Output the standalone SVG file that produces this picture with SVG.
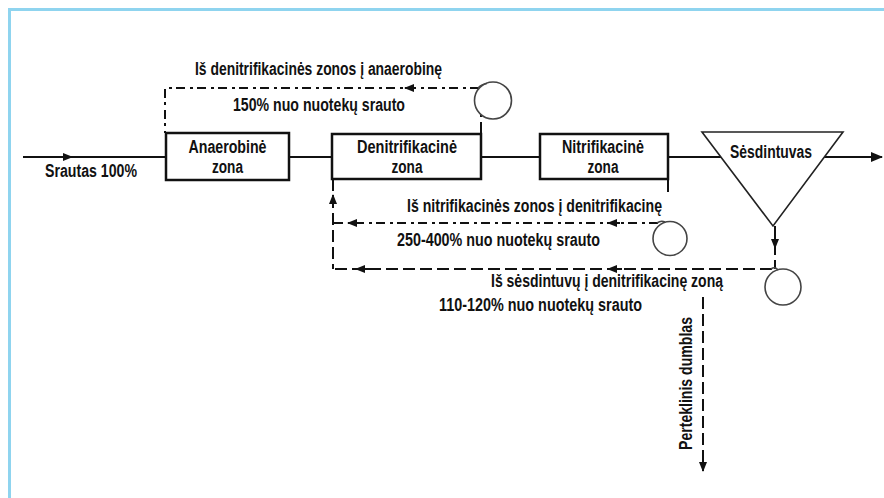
<svg xmlns="http://www.w3.org/2000/svg" width="884" height="498" viewBox="0 0 884 498">
<defs>
<marker id="ah" markerUnits="userSpaceOnUse" markerWidth="10" markerHeight="8" refX="9" refY="4" orient="auto"><path d="M0,0 L10,4 L0,8 z" fill="#111"/></marker>
<marker id="ahL" markerUnits="userSpaceOnUse" markerWidth="12" markerHeight="10" refX="11" refY="5" orient="auto"><path d="M0,0 L12,5 L0,10 z" fill="#111"/></marker>
<style>
.t{font-family:"Liberation Sans Narrow","Liberation Sans",Arial,sans-serif;font-weight:bold;font-size:17.5px;fill:#111}
.c{text-anchor:middle}
.box{fill:#fff;stroke:#111;stroke-width:2.5}
.ln{fill:none;stroke:#111;stroke-width:2}
.dd{fill:none;stroke:#111;stroke-width:2;stroke-dasharray:9 4 3 5}
.ds{fill:none;stroke:#111;stroke-width:2;stroke-dasharray:12 5}
.pump{fill:none;stroke:#444;stroke-width:1.6}
</style>
</defs>
<rect width="884" height="498" fill="#fff"/>
<path d="M9.5,498 V9.5 H884" fill="none" stroke="#8fd4ef" stroke-width="3"/>

<g id="connectors">
<path class="ln" d="M23,157 H166"/>
<path class="ln" d="M60,157 H72" marker-end="url(#ah)"/>
<path class="ln" d="M289,157 H332"/>
<path class="ln" d="M481,157 H540"/>
<path class="ln" d="M668,157 H721"/>
<path class="ln" d="M824,157 H882" marker-end="url(#ahL)"/>
<path class="ds" d="M481,134 V115"/>
<path class="dd" d="M479,88 H165 V133"/>
<path class="ln" d="M416,88 H405" marker-end="url(#ah)"/>
<path class="pump" d="M478,88 Q482,84 487,83.5"/>
<circle class="pump" cx="493" cy="100.5" r="18.5"/>
<path class="ds" d="M668,180 V196"/>
<path class="dd" d="M658,223 H333"/>
<path class="ln" d="M620,223 H608" marker-end="url(#ah)"/>
<path class="ln" d="M360,223 H348" marker-end="url(#ah)"/>
<path class="ds" d="M333,179 V269"/>
<path class="ln" d="M333,207 V195" marker-end="url(#ah)"/>
<path class="pump" d="M657,223 Q661,220 665,222"/>
<circle class="pump" cx="670" cy="238.5" r="17"/>
<path class="ds" d="M775,226 V269"/>
<path class="ln" d="M775,236 V248" marker-end="url(#ah)"/>
<path class="ds" d="M772,269 H333"/>
<path class="pump" d="M771,269 Q775,266 778,270"/>
<path class="ln" d="M370,269 H356" marker-end="url(#ah)"/>
<path class="ln" d="M622,269 H608" marker-end="url(#ah)"/>
<circle class="pump" cx="783" cy="287" r="18"/>
<path class="ds" d="M703,297 V471" marker-end="url(#ah)"/>
</g>

<g id="anaerobine">
<rect class="box" x="166" y="133" width="123" height="47"/>
<text class="t c" x="227.5" y="153" textLength="78" lengthAdjust="spacingAndGlyphs">Anaerobinė</text>
<text class="t c" x="227.5" y="173" textLength="31" lengthAdjust="spacingAndGlyphs">zona</text>
</g>
<g id="denitrifikacine">
<rect class="box" x="332" y="134" width="149" height="45"/>
<text class="t c" x="407" y="153" textLength="100" lengthAdjust="spacingAndGlyphs">Denitrifikacinė</text>
<text class="t c" x="407" y="173" textLength="31" lengthAdjust="spacingAndGlyphs">zona</text>
</g>
<g id="nitrifikacine">
<rect class="box" x="540" y="134" width="128" height="45"/>
<text class="t c" x="603" y="153" textLength="82" lengthAdjust="spacingAndGlyphs">Nitrifikacinė</text>
<text class="t c" x="603" y="173" textLength="31" lengthAdjust="spacingAndGlyphs">zona</text>
</g>
<g id="sesdintuvas">
<polygon points="702,132 843,132 773,226" fill="#fff" stroke="#222" stroke-width="1.6"/>
<text class="t" x="730" y="158" textLength="82" lengthAdjust="spacingAndGlyphs">Sėsdintuvas</text>
</g>

<g id="labels">
<text class="t" x="45" y="177" textLength="92" lengthAdjust="spacingAndGlyphs">Srautas 100%</text>
<text class="t" x="195" y="75" textLength="247" lengthAdjust="spacingAndGlyphs">Iš denitrifikacinės zonos į anaerobinę</text>
<text class="t" x="233" y="111" textLength="172" lengthAdjust="spacingAndGlyphs">150% nuo nuotekų srauto</text>
<text class="t" x="407" y="212" textLength="255" lengthAdjust="spacingAndGlyphs">Iš nitrifikacinės zonos į denitrifikacinę</text>
<text class="t" x="397" y="246" textLength="203" lengthAdjust="spacingAndGlyphs">250-400% nuo nuotekų srauto</text>
<text class="t" x="491" y="287" textLength="232" lengthAdjust="spacingAndGlyphs">Iš sėsdintuvų į denitrifikacinę zoną</text>
<text class="t" x="439" y="311" textLength="203" lengthAdjust="spacingAndGlyphs">110-120% nuo nuotekų srauto</text>
<text class="t" transform="translate(692,450) rotate(-90)" x="0" y="0" textLength="133" lengthAdjust="spacingAndGlyphs">Perteklinis dumblas</text>
</g>
</svg>
